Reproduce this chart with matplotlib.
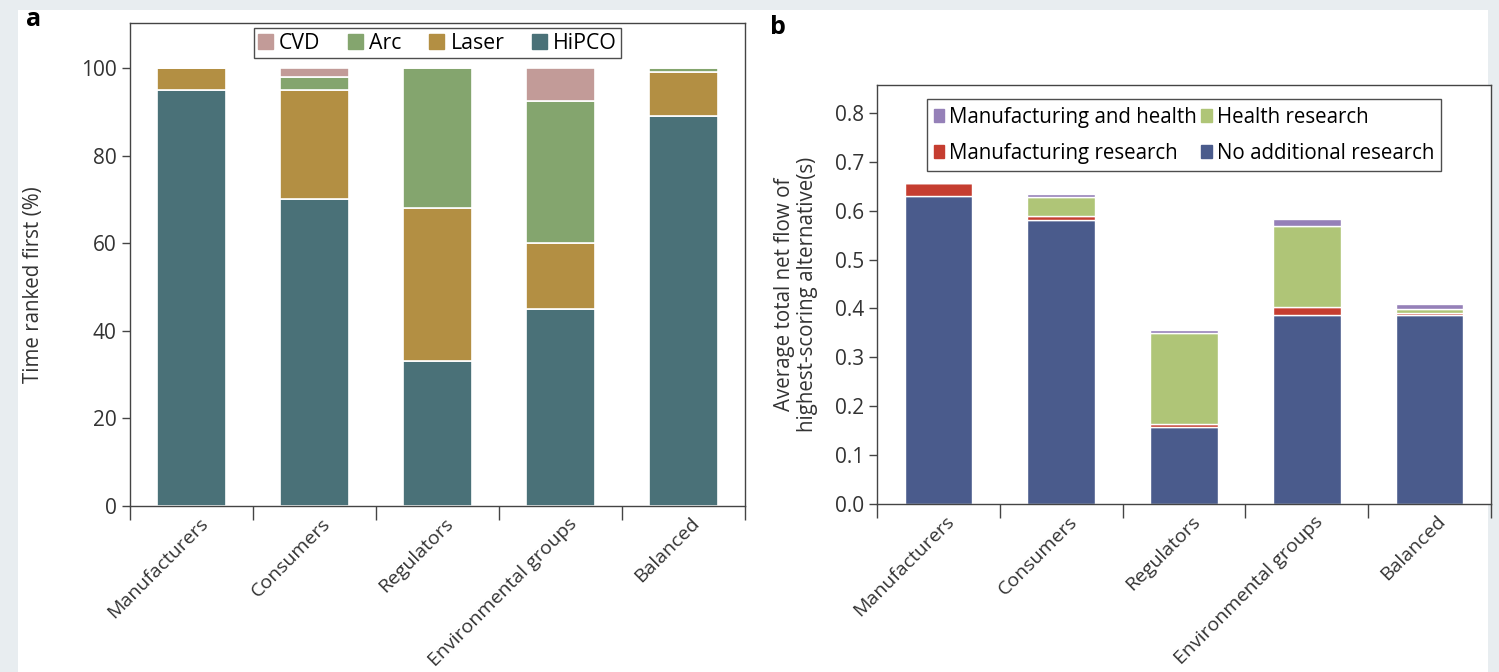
import matplotlib
matplotlib.use("Agg")
import matplotlib.pyplot as plt
import matplotlib.transforms as mtransforms
from matplotlib.patches import Rectangle, Patch
import numpy as np

plt.rcParams["font.family"] = ["Open Sans", "DejaVu Sans"]

groups = ["Manufacturers", "Consumers", "Regulators", "Environmental groups", "Balanced"]

# panel a: time ranked first (%)
hipco = [95, 70, 33, 45, 89]
laser = [5, 25, 35, 15, 10]
arc = [0, 3, 32, 32.5, 1]
cvd = [0, 2, 0, 7.5, 0]

# panel b: average total net flow
no_research = [0.630, 0.581, 0.157, 0.387, 0.387]
manuf_research = [0.027, 0.009, 0.006, 0.015, 0.004]
health_research = [0.0, 0.037, 0.187, 0.166, 0.007]
manuf_health = [0.0, 0.007, 0.005, 0.014, 0.012]

W, H = 1499, 672
fig = plt.figure(figsize=(W / 100, H / 100), dpi=100)
fig.patch.set_facecolor("#e8edf0")
fig.patches.append(Rectangle((18 / W, 0), 1470 / W, 1 - 10 / H,
                             transform=fig.transFigure, facecolor="white",
                             edgecolor="none", zorder=-10))

SPINE = "#444444"
TXT = "#333333"


def style(ax, ylim):
    x = np.arange(len(groups))
    ax.set_xlim(-0.5, len(groups) - 0.5)
    ax.set_ylim(*ylim)
    ax.set_xticks(x)
    ax.set_xticklabels(groups, rotation=45, ha="right", va="top",
                       rotation_mode="anchor", fontsize=14.0, color=TXT)
    ax.tick_params(axis="x", length=0, pad=6)
    shift = mtransforms.ScaledTranslation(7 / 100, 0, fig.dpi_scale_trans)
    for lab in ax.get_xticklabels():
        lab.set_transform(lab.get_transform() + shift)
    ax.set_xticks(np.arange(-0.5, len(groups)), minor=True)
    ax.tick_params(axis="x", which="minor", length=10, width=1, color=SPINE)
    ax.tick_params(axis="y", length=6, width=1, color=SPINE, labelsize=15,
                   labelcolor=TXT)
    for s in ax.spines.values():
        s.set_color(SPINE)
        s.set_linewidth(1)


# ---- panel a
ax1 = fig.add_axes([130 / W, 1 - 506 / H, 615 / W, 483 / H])
x = np.arange(len(groups))
cols_a = {"HiPCO": "#4a7178", "Laser": "#b38f43", "Arc": "#84a56e", "CVD": "#c29b98"}
bottom = np.zeros(len(groups))
for name, vals in [("HiPCO", hipco), ("Laser", laser), ("Arc", arc), ("CVD", cvd)]:
    vals = np.array(vals, dtype=float)
    ax1.bar(x, vals, 0.56, bottom=bottom, color=cols_a[name], edgecolor="white",
            linewidth=1.2)
    bottom += vals
style(ax1, (0, 110.3))
ax1.set_yticks([0, 20, 40, 60, 80, 100])
fig.text(34 / W, 1 - 285 / H, "Time ranked first (%)", fontsize=14.8, color=TXT,
         rotation=90, ha="center", va="center")
handles = [Patch(color=cols_a[k]) for k in ["CVD", "Arc", "Laser", "HiPCO"]]
leg = ax1.legend(handles, ["CVD", "Arc", "Laser", "HiPCO"], loc="upper center",
                 ncol=4, fontsize=15.3, frameon=True, fancybox=False,
                 handlelength=0.7, handleheight=0.7, handletextpad=0.3,
                 columnspacing=1.3, borderaxespad=0.25, borderpad=0.2)
leg.get_frame().set_edgecolor("#222222")
leg.get_frame().set_linewidth(1)

# ---- panel b
ax2 = fig.add_axes([877 / W, 1 - 504 / H, 614 / W, 419 / H])
cols_b = {"No additional research": "#4a5b8c", "Manufacturing research": "#c53d30",
          "Health research": "#afc577", "Manufacturing and health": "#9580b8"}
bottom = np.zeros(len(groups))
for name, vals in [("No additional research", no_research),
                   ("Manufacturing research", manuf_research),
                   ("Health research", health_research),
                   ("Manufacturing and health", manuf_health)]:
    vals = np.array(vals, dtype=float)
    ax2.bar(x, vals, 0.55, bottom=bottom, color=cols_b[name], edgecolor="white",
            linewidth=1.0)
    bottom += vals
style(ax2, (0, 0.857))
ax2.set_yticks(np.arange(0, 0.81, 0.1))
ax2.set_yticklabels([f"{v:.1f}" for v in np.arange(0, 0.81, 0.1)])
fig.text(796 / W, 1 - 294.5 / H,
         "Average total net flow of\nhighest-scoring alternative(s)",
         fontsize=14.8, color=TXT, rotation=90, ha="center", va="center",
         multialignment="center", linespacing=1.15)
order = ["Manufacturing and health", "Manufacturing research",
         "Health research", "No additional research"]
leg2 = ax2.legend([Patch(color=cols_b[k]) for k in order], order, loc="upper center",
                  ncol=2, fontsize=14.8, frameon=True, fancybox=False,
                  handlelength=0.5, handleheight=0.6, handletextpad=0.25,
                  columnspacing=0.2, borderaxespad=0.7, borderpad=0.35,
                  labelspacing=0.75)
leg2.get_frame().set_edgecolor("#222222")
leg2.get_frame().set_linewidth(1)

fig.text(26 / W, 1 - 20 / H, "a", fontsize=18, fontweight="bold", va="center")
fig.text(770 / W, 1 - 28 / H, "b", fontsize=18, fontweight="bold", va="center")

fig.savefig("out.png", dpi=100, facecolor=fig.get_facecolor())
